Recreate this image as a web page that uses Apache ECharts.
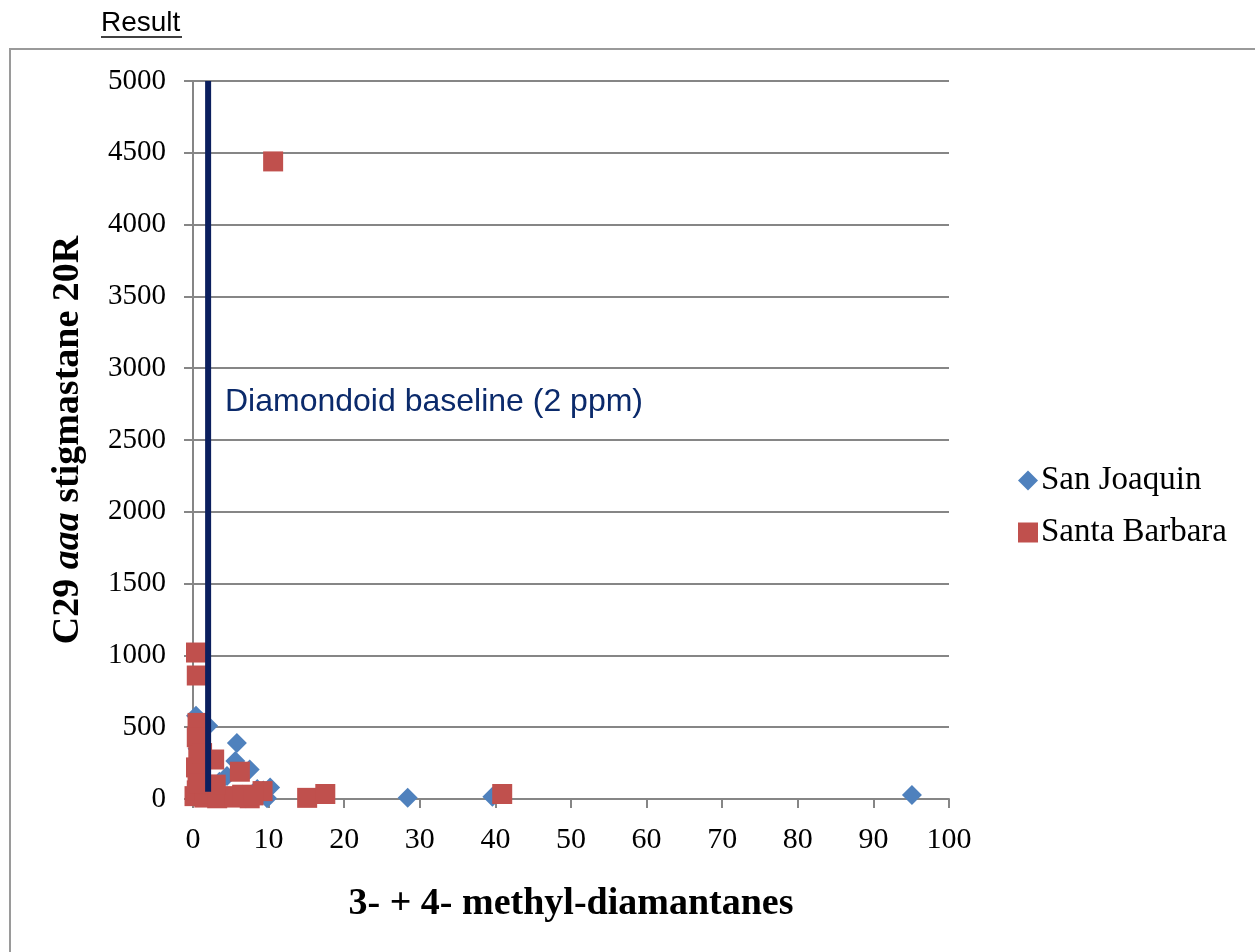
<!DOCTYPE html>
<html>
<head>
<meta charset="utf-8">
<script src="https://cdn.jsdelivr.net/npm/echarts@6/dist/echarts.min.js"></script>
<style>
  html, body { margin: 0; padding: 0; background: #fff; }
  #chart { width: 1255px; height: 952px; }
</style>
</head>
<body>
<div id="chart"></div>
<script>
// San Joaquin (blue diamonds)
const sanJoaquinX = [0.4, 2.0, 5.8, 5.6, 7.5, 4.5, 3.5, 2.5, 1.5, 9.3, 10.2, 9.8, 8.5, 6.5, 4.0, 3.0, 28.4, 39.6, 95.1, 1.0, 0.6, 7.0];
const sanJoaquinY = [580, 510, 390, 265, 205, 160, 120, 90, 60, 60, 80, 5, 70, 30, 10, 20, 8, 15, 28, 200, 350, 5];
// Santa Barbara (red squares)
const santaBarbaraX = [10.6, 0.4, 0.5, 0.6, 0.5, 0.7, 0.4, 0.6, 1.2, 2.8, 6.2, 9.2, 15.1, 17.5, 40.9, 0.2, 0.5, 1.5, 2.5, 3.2, 4.5, 5.5, 6.5, 7.5, 8.0, 1.8, 3.0, 0.8];
const santaBarbaraY = [4440, 1020, 860, 530, 430, 300, 220, 160, 320, 275, 190, 55, 8, 35, 35, 20, 60, 10, 40, 5, 20, 10, 30, 5, 25, 100, 100, 110];
// diamondoid baseline at 2 ppm
const baselineX = [2, 2];
const baselineY = [50, 5000];

const zip = (xs, ys) => xs.map((x, i) => [x, ys[i]]);

let myChart = echarts.init(document.getElementById("chart"));
const serif = "Liberation Serif";
myChart.setOption({
  animation: false,
  grid: { left: 193, right: 306, top: 81, bottom: 153 },
  legend: {
    data: [
      { name: "San Joaquin", itemStyle: { opacity: 1 } },
      { name: "Santa Barbara", itemStyle: { opacity: 1 } },
    ],
    orient: "vertical",
    left: 1013,
    top: 459,
    itemGap: 19,
    itemWidth: 20,
    itemHeight: 20,
    textStyle: { fontFamily: serif, fontSize: 33, color: "#000", padding: [0, 0, 0, -2] },
  },
  xAxis: {
    type: "value",
    min: 0,
    max: 100,
    interval: 10,
    name: "3- + 4- methyl-diamantanes",
    nameLocation: "middle",
    nameGap: 86,
    nameTextStyle: { fontFamily: serif, fontSize: 38, fontWeight: "bold", color: "#000" },
    axisLine: { show: true, lineStyle: { color: "#868686", width: 2 } },
    axisTick: { show: true, length: 9, lineStyle: { color: "#868686", width: 2 } },
    axisLabel: { fontFamily: serif, fontSize: 30, color: "#000", margin: 26 },
    splitLine: { show: false },
  },
  yAxis: {
    type: "value",
    min: 0,
    max: 5000,
    interval: 500,
    name: "{b|C29 }{i|aaa}{b| stigmastane 20R}",
    nameLocation: "middle",
    nameGap: 106,
    nameTextStyle: {
      rich: {
        b: { fontFamily: serif, fontSize: 38, fontWeight: "bold", color: "#000" },
        i: { fontFamily: serif, fontSize: 38, fontWeight: "bold", fontStyle: "italic", color: "#000" },
      },
    },
    axisLine: { show: true, lineStyle: { color: "#868686", width: 2 } },
    axisTick: { show: true, length: 9, lineStyle: { color: "#868686", width: 2 } },
    axisLabel: { fontFamily: serif, fontSize: 29, color: "#000", margin: 27, formatter: (v) => String(v) },
    splitLine: { show: true, lineStyle: { color: "#868686", width: 2 } },
  },
  series: [
    {
      name: "San Joaquin",
      type: "scatter",
      symbol: "diamond",
      symbolSize: 20,
      itemStyle: { color: "#4F81BD", opacity: 1 },
      data: zip(sanJoaquinX, sanJoaquinY),
      z: 2,
    },
    {
      name: "Santa Barbara",
      type: "scatter",
      symbol: "rect",
      symbolSize: 20,
      itemStyle: { color: "#C0504D", opacity: 1 },
      data: zip(santaBarbaraX, santaBarbaraY),
      z: 3,
    },
    {
      name: "Baseline",
      type: "line",
      showSymbol: false,
      symbol: "none",
      lineStyle: { color: "#0b1f5e", width: 6 },
      data: zip(baselineX, baselineY),
      z: 5,
    },
  ],
  graphic: [
    {
      type: "rect",
      shape: { x: 10, y: 49, width: 1400, height: 1000 },
      style: { fill: "none", stroke: "#9a9a9a", lineWidth: 2 },
      silent: true,
    },
    {
      type: "text",
      left: 101,
      top: 9,
      style: { text: "Result", font: "28px 'Liberation Sans'", fill: "#000" },
    },
    {
      type: "line",
      shape: { x1: 101, y1: 37, x2: 182, y2: 37 },
      style: { stroke: "#000", lineWidth: 1.5 },
    },
    {
      type: "text",
      left: 225,
      top: 386,
      style: { text: "Diamondoid baseline (2 ppm)", font: "32px 'Liberation Sans'", fill: "#0b2a6b" },
    },
  ],
});
window.onresize = myChart.resize;
</script>
</body>
</html>
